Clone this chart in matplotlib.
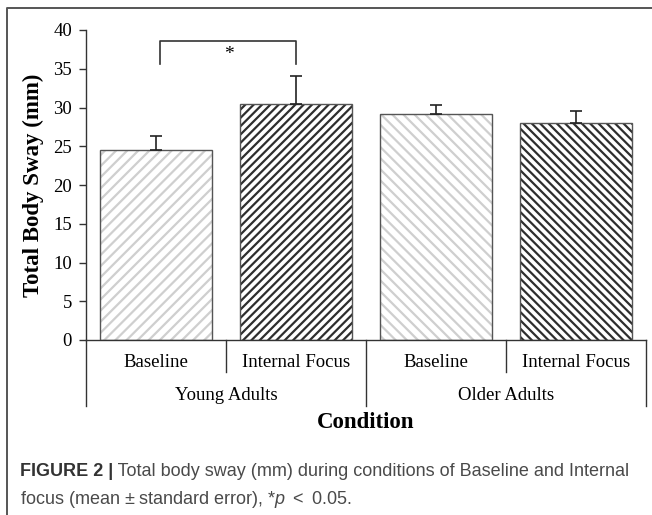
import matplotlib
matplotlib.use("Agg")
import matplotlib.pyplot as plt
from matplotlib.lines import Line2D

# data
conditions = ["Baseline", "Internal Focus", "Baseline", "Internal Focus"]
groups = ["Young Adults", "Older Adults"]
means = [24.5, 30.5, 29.1, 28.0]
errors = [1.8, 3.6, 1.2, 1.6]
hatches = ["///", "////", "\\\\\\", "\\\\\\\\"]
hatch_colors = ["#cfcfcf", "#2e2e2e", "#cfcfcf", "#2e2e2e"]

plt.rcParams["font.family"] = ["Liberation Serif", "DejaVu Serif"]
plt.rcParams["hatch.linewidth"] = 1.6
plt.rcParams["mathtext.fontset"] = "custom"
plt.rcParams["mathtext.rm"] = "Liberation Sans"
plt.rcParams["mathtext.it"] = "Liberation Sans:italic"

W, H = 652, 515
fig = plt.figure(figsize=(W / 100, H / 100), dpi=100)
ax = fig.add_axes([86 / W, 1 - 340 / H, 560 / W, 310 / H])

x = list(range(len(means)))
# hatched fill, then outline on top
ax.bar(x, means, width=0.8, color="white", edgecolor=hatch_colors, linewidth=0,
       hatch=hatches, zorder=2)
ax.bar(x, means, width=0.8, fill=False, edgecolor="#555555", linewidth=1.0, zorder=3)
ax.errorbar(x, means, yerr=[[0] * len(errors), errors], fmt="none", ecolor="#222222",
            elinewidth=1.2, capsize=4, capthick=1.2, zorder=4)

ax.set_xlim(-0.5, 3.5)
ax.set_ylim(0, 40)
ax.set_yticks(range(0, 41, 5))
ax.tick_params(axis="y", labelsize=13.5, length=5, width=1, color="#333333", pad=5)
ax.set_xticks([])
for s in ["top", "right"]:
    ax.spines[s].set_visible(False)
for s in ["left", "bottom"]:
    ax.spines[s].set_color("#333333")
    ax.spines[s].set_linewidth(1.0)

ax.set_ylabel("Total Body Sway (mm)", fontsize=16.5, fontweight="bold", labelpad=7)

# significance bracket
ax.plot([0.03, 0.03, 1.0, 1.0], [35.6, 38.6, 38.6, 35.6], color="#333333", lw=1.2, zorder=5)
ax.text(0.52, 36.9, "*", ha="center", va="center", fontsize=14)

# category table below the axis
trans = ax.get_xaxis_transform()
ah = 310  # axes height in px
short_y = -32 / ah
long_y = -66 / ah
for xb in [0.5, 2.5]:
    ax.add_line(Line2D([xb, xb], [0, short_y], transform=trans, color="#333333",
                       lw=1.0, clip_on=False))
for xb in [-0.5, 1.5, 3.5]:
    ax.add_line(Line2D([xb, xb], [0, long_y], transform=trans, color="#333333",
                       lw=1.0, clip_on=False))
for xi, name in zip(x, conditions):
    ax.text(xi, -22.7 / ah, name, transform=trans, ha="center", va="center", fontsize=13.5)
for xi, name in zip([0.5, 2.5], groups):
    ax.text(xi, -56 / ah, name, transform=trans, ha="center", va="center", fontsize=13.5)
ax.text(1.5, -82.7 / ah, "Condition", transform=trans, ha="center", va="center",
        fontsize=16.5, fontweight="bold")

# frame of the figure panel
fig.add_artist(Line2D([7 / W, 7 / W, 1.0], [0.0, 1 - 8 / H, 1 - 8 / H],
                      transform=fig.transFigure, color="#555555", lw=1.4))

# caption
t1 = fig.text(20 / W, 1 - 471 / H, "FIGURE 2 |", fontsize=13, fontweight="bold",
              family="Liberation Sans", color="#333333", va="center")
ax.annotate(" Total body sway (mm) during conditions of Baseline and Internal",
            xy=(1, 0), xycoords=t1, va="bottom", ha="left", fontsize=13,
            family="Liberation Sans", color="#4a4a4a", annotation_clip=False)
fig.text(20 / W, 1 - 499 / H, r"focus (mean $\pm$ standard error), *$p$ $<$ 0.05.",
         fontsize=13, family="Liberation Sans", color="#4a4a4a", va="center")

fig.savefig("out.png", dpi=100)
